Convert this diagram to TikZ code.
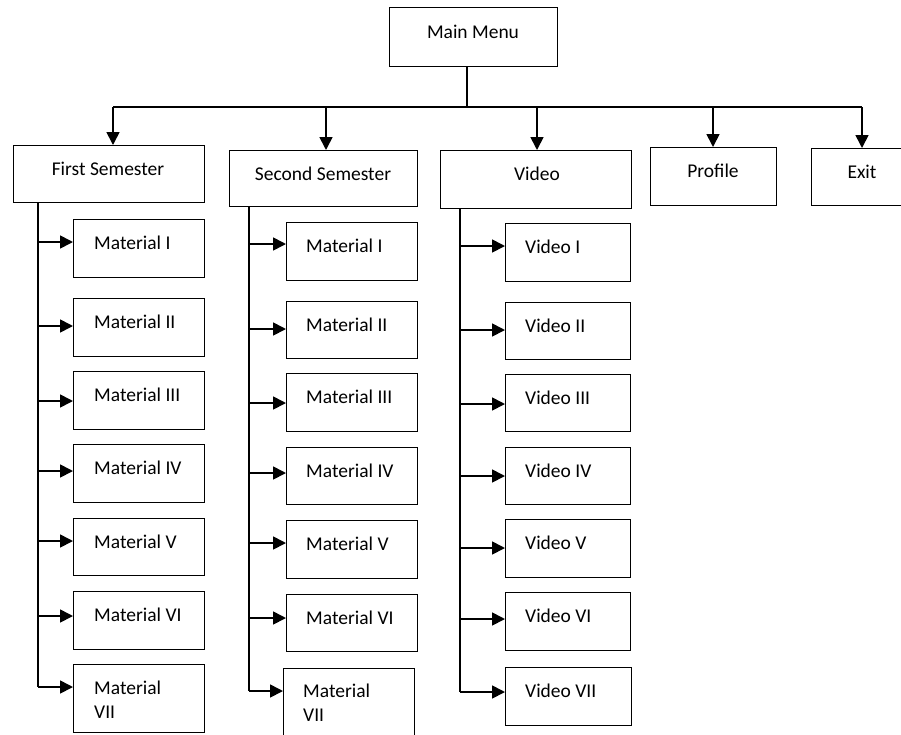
\documentclass[tikz,border=0pt]{standalone}
\usepackage{fontspec}
\setmainfont{Carlito}
\usetikzlibrary{arrows.meta,calc}
\tikzset{
  box/.style={draw=black, line width=1.3pt, inner sep=0pt, anchor=north west, fill=white},
  txt/.style={inner sep=0pt, anchor=base west, font=\fontsize{19.5}{24}\selectfont, align=left},
  ctxt/.style={inner sep=0pt, anchor=base, font=\fontsize{19.5}{24}\selectfont},
  conn/.style={line width=1.7pt, draw=black},
  arr/.style={line width=1.7pt, draw=black, -{Triangle[length=13pt,width=13pt]}, shorten >=0pt}
}
\begin{document}
\begin{tikzpicture}[x=1pt,y=-1pt]
\useasboundingbox (0,0) rectangle (901,734);
% top level boxes
\node[box, minimum width=168pt, minimum height=59pt] (mm) at (389,7) {};
\node[ctxt] (tmm) at (473,38.5) {Main Menu};
\node[box, minimum width=191pt, minimum height=57pt] (fs) at (13,145) {};
\node[ctxt] (tfs) at (108,175) {First Semester};
\node[box, minimum width=188pt, minimum height=56pt] (ss) at (229,150) {};
\node[ctxt] (tss) at (323,180) {Second Semester};
\node[box, minimum width=191pt, minimum height=58pt] (vd) at (440,150) {};
\node[ctxt] (tvd) at (537,180) {Video};
\node[box, minimum width=126pt, minimum height=58pt] (pf) at (650,147) {};
\node[ctxt] (tpf) at (713,177) {Profile};
\node[box, minimum width=95pt, minimum height=57pt] (ex) at (811,148) {};
\node[ctxt] (tex) at (862,178) {Exit};
% bus
\coordinate (bm) at (467,107);
\coordinate (b1) at (113,107);
\coordinate (b2) at (326,107);
\coordinate (b3) at (537,107);
\coordinate (b4) at (713,107);
\coordinate (b5) at (862,107);
\draw[conn] (mm.south -| bm) -- (bm);
\draw[conn] (b1) -- (b5);
\draw[arr] (b1) -- (b1 |- fs.north);
\draw[arr] (b2) -- (b2 |- ss.north);
\draw[arr] (b3) -- (b3 |- vd.north);
\draw[arr] (b4) -- (b4 |- pf.north);
\draw[arr] (b5) -- (b5 |- ex.north);
% column 1
\node[box, minimum width=131pt, minimum height=58pt] (m11) at (73,219) {};
\node[box, minimum width=131pt, minimum height=58pt] (m12) at (73,298) {};
\node[box, minimum width=131pt, minimum height=58pt] (m13) at (73,371) {};
\node[box, minimum width=131pt, minimum height=58pt] (m14) at (73,444) {};
\node[box, minimum width=131pt, minimum height=57pt] (m15) at (73,518) {};
\node[box, minimum width=131pt, minimum height=58pt] (m16) at (73,591) {};
\node[box, minimum width=131pt, minimum height=68pt] (m17) at (73,664) {};
\node[txt] (t11) at (94,249) {Material I};
\node[txt] (t12) at (94,328) {Material II};
\node[txt] (t13) at (94,401) {Material III};
\node[txt] (t14) at (94,474) {Material IV};
\node[txt] (t15) at (94,548) {Material V};
\node[txt] (t16) at (94,621) {Material VI};
\node[txt] (t17) at (94,718) {Material\\[0pt]VII};
\coordinate (a11) at (38,242);
\coordinate (a12) at (38,326);
\coordinate (a13) at (38,401);
\coordinate (a14) at (38,471);
\coordinate (a15) at (38,541);
\coordinate (a16) at (38,616);
\coordinate (a17) at (38,687);
\draw[conn] (fs.south -| a11) -- (a17);
\foreach \i in {1,...,7}{\draw[arr] (a1\i) -- (a1\i -| m1\i.west);}
% column 2
\node[box, minimum width=131pt, minimum height=58pt] (m21) at (286,222) {};
\node[box, minimum width=131pt, minimum height=57pt] (m22) at (286,301) {};
\node[box, minimum width=131pt, minimum height=58pt] (m23) at (286,373) {};
\node[box, minimum width=131pt, minimum height=57pt] (m24) at (286,447) {};
\node[box, minimum width=131pt, minimum height=58pt] (m25) at (286,520) {};
\node[box, minimum width=131pt, minimum height=57pt] (m26) at (286,594) {};
\node[box, minimum width=131pt, minimum height=72pt] (m27) at (283,668) {};
\node[txt] (t21) at (306,252) {Material I};
\node[txt] (t22) at (306,331) {Material II};
\node[txt] (t23) at (306,403) {Material III};
\node[txt] (t24) at (306,477) {Material IV};
\node[txt] (t25) at (306,550) {Material V};
\node[txt] (t26) at (306,624) {Material VI};
\node[txt] (t27) at (303,721) {Material\\[0pt]VII};
\coordinate (a21) at (249,244);
\coordinate (a22) at (249,329);
\coordinate (a23) at (249,403);
\coordinate (a24) at (249,473);
\coordinate (a25) at (249,543);
\coordinate (a26) at (249,618);
\coordinate (a27) at (249,691);
\draw[conn] (ss.south -| a21) -- (a27);
\foreach \i in {1,...,7}{\draw[arr] (a2\i) -- (a2\i -| m2\i.west);}
% column 3
\node[box, minimum width=125pt, minimum height=58pt] (m31) at (505,223) {};
\node[box, minimum width=125pt, minimum height=57pt] (m32) at (505,302) {};
\node[box, minimum width=125pt, minimum height=57pt] (m33) at (505,374) {};
\node[box, minimum width=125pt, minimum height=57pt] (m34) at (505,447) {};
\node[box, minimum width=125pt, minimum height=58pt] (m35) at (505,519) {};
\node[box, minimum width=125pt, minimum height=58pt] (m36) at (505,592) {};
\node[box, minimum width=126pt, minimum height=58pt] (m37) at (505,667) {};
\node[txt] (t31) at (525,253) {Video I};
\node[txt] (t32) at (525,332) {Video II};
\node[txt] (t33) at (525,404) {Video III};
\node[txt] (t34) at (525,477) {Video IV};
\node[txt] (t35) at (525,549) {Video V};
\node[txt] (t36) at (525,622) {Video VI};
\node[txt] (t37) at (525,697) {Video VII};
\coordinate (a31) at (460,246);
\coordinate (a32) at (460,330);
\coordinate (a33) at (460,404);
\coordinate (a34) at (460,476);
\coordinate (a35) at (460,548);
\coordinate (a36) at (460,619);
\coordinate (a37) at (460,692);
\draw[conn] (vd.south -| a31) -- (a37);
\foreach \i in {1,...,7}{\draw[arr] (a3\i) -- (a3\i -| m3\i.west);}
\end{tikzpicture}
\end{document}
